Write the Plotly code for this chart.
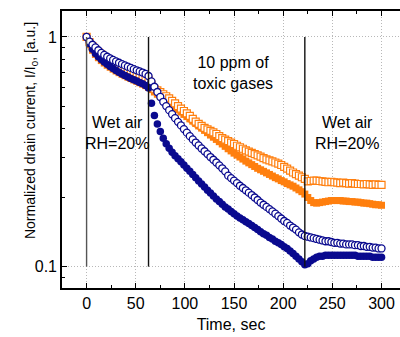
import plotly.graph_objects as go

# ---- data ----
time_s = [3 * i for i in range(101)]  # sampling grid, seconds

blue_filled = [
    1.000, 0.935, 0.885, 0.848, 0.820, 0.797, 0.778, 0.760, 0.744, 0.728,
    0.714, 0.702, 0.690, 0.680, 0.670, 0.660, 0.651, 0.643, 0.634, 0.625,
    0.615, 0.600, 0.515, 0.455, 0.418, 0.388, 0.362, 0.343, 0.328, 0.315,
    0.304, 0.295, 0.286, 0.277, 0.268, 0.260, 0.252, 0.244, 0.236, 0.229,
    0.222, 0.215, 0.209, 0.203, 0.197, 0.192, 0.187, 0.182, 0.178, 0.174,
    0.170, 0.166, 0.163, 0.160, 0.157, 0.154, 0.151, 0.148, 0.145, 0.142,
    0.139, 0.137, 0.134, 0.132, 0.129, 0.127, 0.125, 0.122, 0.120, 0.117,
    0.114, 0.111, 0.108, 0.105, 0.102, 0.103, 0.106, 0.108, 0.110, 0.111,
    0.111, 0.112, 0.112, 0.112, 0.112, 0.112, 0.112, 0.112, 0.112, 0.112,
    0.112, 0.112, 0.111, 0.111, 0.111, 0.111, 0.111, 0.110, 0.110, 0.110,
    0.110,
]

blue_open = [
    1.000, 0.955, 0.925, 0.900, 0.875, 0.852, 0.835, 0.820, 0.806, 0.794,
    0.783, 0.772, 0.762, 0.752, 0.742, 0.733, 0.724, 0.716, 0.708, 0.700,
    0.690, 0.676, 0.640, 0.607, 0.576, 0.548, 0.522, 0.500, 0.480, 0.461,
    0.443, 0.427, 0.412, 0.397, 0.383, 0.370, 0.358, 0.347, 0.337, 0.327,
    0.318, 0.309, 0.300, 0.292, 0.284, 0.276, 0.268, 0.260, 0.249, 0.243,
    0.237, 0.231, 0.225, 0.220, 0.215, 0.210, 0.205, 0.200, 0.195, 0.190,
    0.186, 0.182, 0.178, 0.174, 0.170, 0.166, 0.162, 0.158, 0.155, 0.151,
    0.148, 0.145, 0.141, 0.138, 0.136, 0.135, 0.134, 0.133, 0.132, 0.131,
    0.130, 0.129, 0.129, 0.128, 0.127, 0.127, 0.126, 0.126, 0.125, 0.125,
    0.125, 0.124, 0.124, 0.123, 0.123, 0.122, 0.122, 0.121, 0.121, 0.120,
    0.120,
]

orange_open = [
    1.000, 0.950, 0.910, 0.880, 0.860, 0.840, 0.820, 0.800, 0.790, 0.775,
    0.765, 0.755, 0.745, 0.735, 0.725, 0.715, 0.705, 0.695, 0.685, 0.675,
    0.665, 0.650, 0.620, 0.595, 0.585, 0.575, 0.563, 0.552, 0.540, 0.527,
    0.514, 0.500, 0.487, 0.476, 0.465, 0.453, 0.440, 0.428, 0.418, 0.410,
    0.402, 0.396, 0.390, 0.384, 0.378, 0.370, 0.363, 0.357, 0.352, 0.347,
    0.342, 0.336, 0.331, 0.326, 0.321, 0.317, 0.313, 0.309, 0.305, 0.301,
    0.297, 0.293, 0.290, 0.287, 0.284, 0.281, 0.277, 0.272, 0.267, 0.262,
    0.257, 0.253, 0.249, 0.245, 0.241, 0.235, 0.236, 0.237, 0.237, 0.236,
    0.235, 0.234, 0.233, 0.234, 0.233, 0.232, 0.231, 0.232, 0.231, 0.230,
    0.231, 0.230, 0.229, 0.229, 0.228, 0.229, 0.228, 0.227, 0.228, 0.227,
    0.227,
]

orange_filled = [
    1.000, 0.925, 0.875, 0.840, 0.812, 0.789, 0.770, 0.753, 0.738, 0.724,
    0.711, 0.699, 0.688, 0.678, 0.668, 0.659, 0.650, 0.641, 0.632, 0.623,
    0.614, 0.603, 0.590, 0.576, 0.563, 0.551, 0.540, 0.528, 0.516, 0.504,
    0.493, 0.482, 0.471, 0.460, 0.450, 0.440, 0.430, 0.420, 0.410, 0.401,
    0.392, 0.383, 0.374, 0.366, 0.358, 0.350, 0.342, 0.334, 0.326, 0.319,
    0.312, 0.306, 0.300, 0.294, 0.288, 0.283, 0.278, 0.273, 0.268, 0.264,
    0.260, 0.256, 0.252, 0.248, 0.244, 0.241, 0.237, 0.234, 0.230, 0.227,
    0.224, 0.220, 0.216, 0.212, 0.207, 0.200, 0.194, 0.190, 0.189, 0.190,
    0.191, 0.192, 0.193, 0.194, 0.194, 0.194, 0.194, 0.193, 0.193, 0.192,
    0.192, 0.191, 0.191, 0.190, 0.189, 0.189, 0.188, 0.187, 0.186, 0.186,
    0.185,
]

phase_bounds = [0, 63, 222]          # s, vertical separators
x_major = [0, 50, 100, 150, 200, 250, 300]
y_major = [0.1, 1]
y_major_text = ["0.1", "1"]
y_minor = [0.09, 0.2, 0.3, 0.4, 0.5, 0.6, 0.7, 0.8, 0.9]

NAVY = "#0a0a8f"
ORANGE = "#ff7f0e"
FONT = "Liberation Sans, Arial, sans-serif"

fig = go.Figure()
fig.add_trace(go.Scatter(x=time_s, y=orange_filled, mode="markers",
                         marker=dict(symbol="square", size=7, color=ORANGE,
                                     line=dict(width=0))))
fig.add_trace(go.Scatter(x=time_s, y=orange_open, mode="markers",
                         marker=dict(symbol="square", size=7, color="white",
                                     line=dict(width=1.2, color=ORANGE))))
fig.add_trace(go.Scatter(x=time_s, y=blue_filled, mode="markers",
                         marker=dict(symbol="circle", size=7.5, color=NAVY,
                                     line=dict(width=0))))
fig.add_trace(go.Scatter(x=time_s, y=blue_open, mode="markers",
                         marker=dict(symbol="circle", size=7, color="white",
                                     line=dict(width=1.3, color=NAVY))))

line_colors = ["#555555", "#111111", "#111111"]
for xb, lc in zip(phase_bounds, line_colors):
    fig.add_shape(type="line", xref="x", yref="y", x0=xb, x1=xb,
                  y0=y_major[0], y1=y_major[1],
                  line=dict(color=lc, width=1.4), layer="above")

ann_font = dict(family=FONT, size=16, color="black")
fig.add_annotation(text="Wet air<br>RH=20%", xref="x", yref="paper",
                   x=31, y=0.561, showarrow=False, font=ann_font)
fig.add_annotation(text="10 ppm of<br>toxic gases", xref="x", yref="paper",
                   x=149, y=0.852, showarrow=False, font=ann_font)
fig.add_annotation(text="Wet air<br>RH=20%", xref="x", yref="paper",
                   x=265, y=0.561, showarrow=False, font=ann_font)
fig.add_annotation(text="Normalized drain current, I/I<sub>0</sub>, [a.u.]",
                   xref="paper", yref="paper", x=-0.124, y=0.567,
                   textangle=-90, showarrow=False,
                   font=dict(family=FONT, size=14, color="black"))

fig.update_layout(
    width=400, height=337,
    margin=dict(l=62, r=0, t=11, b=49),
    paper_bgcolor="white", plot_bgcolor="white",
    showlegend=False,
    font=dict(family=FONT, size=16, color="black"),
    xaxis=dict(
        range=[-25, 318.8],
        tickvals=x_major,
        ticks="inside", ticklen=5, tickwidth=1.3, tickcolor="black",
        showline=True, linecolor="black", linewidth=1.6, mirror="ticks",
        showgrid=True, gridcolor="#b8b8b8", griddash="1px,2px", gridwidth=1,
        zeroline=False,
        minor=dict(dtick=25, ticks="inside", ticklen=3, tickcolor="black",
                   showgrid=False),
        title=dict(text="Time, sec", font=dict(size=16), standoff=8),
        tickfont=dict(size=16),
    ),
    yaxis=dict(
        type="log",
        range=[-1.093, 0.113],
        tickvals=y_major, ticktext=y_major_text,
        ticks="inside", ticklen=5, tickwidth=1.3, tickcolor="black",
        showline=True, linecolor="black", linewidth=1.6, mirror=False,
        showgrid=True, gridcolor="#b8b8b8", griddash="1px,2px", gridwidth=1,
        zeroline=False,
        minor=dict(tickvals=y_minor, ticks="inside", ticklen=3,
                   tickcolor="black", showgrid=False),
        tickfont=dict(size=16),
    ),
)

fig.write_html("out.html")
